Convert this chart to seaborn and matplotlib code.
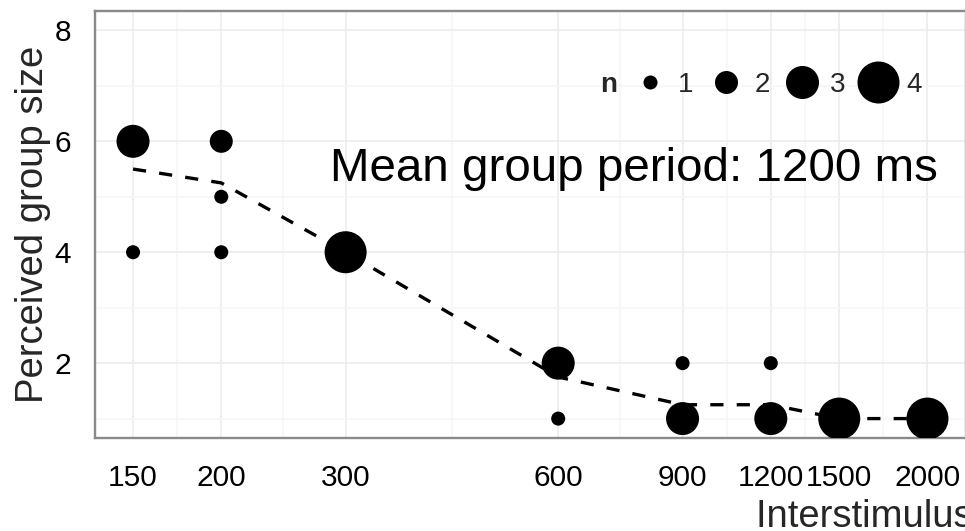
import numpy as np
import pandas as pd
import matplotlib
matplotlib.use("Agg")
import matplotlib.pyplot as plt
from matplotlib.lines import Line2D
from matplotlib.ticker import NullFormatter
import seaborn as sns

# Perceived group size per interstimulus interval, with number of responses
isi = [150, 150, 200, 200, 200, 300, 600, 600, 900, 900, 1200, 1200, 1500, 2000]
group_size = [6, 4, 6, 5, 4, 4, 2, 1, 2, 1, 2, 1, 1, 1]
n_resp = [3, 1, 2, 1, 1, 4, 3, 1, 1, 3, 1, 3, 4, 4]

x_breaks = [150, 200, 300, 600, 900, 1200, 1500, 2000]
x_labels = ["150", "200", "300", "600", "900", "1200", "1500", "2000"]
y_breaks = [2, 4, 6, 8]
y_minor = [1, 3, 5, 7]
n_levels = [1, 2, 3, 4]

annotation = "Mean group period: 1200 ms"

sns.set_style("white")
plt.rcParams["font.family"] = ["Liberation Sans", "DejaVu Sans"]
plt.rcParams["lines.scale_dashes"] = False

df = pd.DataFrame({"isi": isi, "size": group_size, "n": n_resp})
# one row per response, so the line shows the mean response per interval
df_long = df.loc[df.index.repeat(df["n"])].reset_index(drop=True)

# marker areas (pt^2) for n = 1..4
point_sizes = {1: 102, 2: 274, 3: 565, 4: 915}

fig = plt.figure(figsize=(9.65, 5.31), dpi=100)
ax = fig.add_axes([94.5 / 965, 93 / 531, 871.5 / 965, 427 / 531])
ax.set_xscale("log")

sns.scatterplot(data=df, x="isi", y="size", size="n", sizes=point_sizes,
                color="black", linewidth=0, legend=False, ax=ax, zorder=3)
sns.lineplot(data=df_long, x="isi", y="size", estimator="mean", errorbar=None,
             color="black", lw=2.4, ax=ax, zorder=4)
ax.lines[-1].set_dashes((9.5, 9.5))

# axis limits with the usual 5% padding
lx = np.log10([min(x_breaks), max(x_breaks)])
pad_x = 0.05 * (lx[1] - lx[0]) * 0.97
ax.set_xlim(10 ** (lx[0] - pad_x), 10 ** (lx[1] + pad_x))
ax.set_ylim(1 - 0.35, 8 + 0.35)

ax.set_xticks(x_breaks, x_labels)
lb = np.log10(x_breaks)
ax.set_xticks(10 ** ((lb[:-1] + lb[1:]) / 2), minor=True)
ax.xaxis.set_minor_formatter(NullFormatter())
ax.set_yticks(y_breaks)
ax.set_yticks(y_minor, minor=True)

ax.tick_params(which="major", direction="out", length=9.4, width=1.9,
               color="black", labelsize=21.5, labelcolor="black")
ax.tick_params(axis="x", which="major", pad=9.5)
ax.tick_params(axis="y", which="major", pad=7.5)
ax.tick_params(which="minor", length=0)

ax.set_axisbelow(True)
ax.grid(which="major", color="#EBEBEB", lw=1.1)
ax.grid(which="minor", color="#F6F6F6", lw=1.1)
for sp in ax.spines.values():
    sp.set_color("#8A8A8A")
    sp.set_linewidth(1.7)

ax.set_xlabel("Interstimulus interval (ms)", fontsize=27.5)
ax.xaxis.label.set_ha("left")
ax.xaxis.label.set_va("baseline")
ax.xaxis.set_label_coords(0.759, -0.2084)

ax.set_ylabel("Perceived group size", fontsize=27.5)
ax.yaxis.label.set_rotation_mode("anchor")
ax.yaxis.label.set_ha("center")
ax.yaxis.label.set_va("baseline")
ax.yaxis.set_label_coords(-0.0591, 0.5)

ax.text(0.6185, 0.6019, annotation, transform=ax.transAxes, fontsize=34.2,
        ha="center", va="baseline", color="black")

handles = [Line2D([], [], linestyle="none")]
for k in n_levels:
    handles.append(Line2D([], [], linestyle="none", marker="o",
                          markersize=np.sqrt(point_sizes[k]),
                          markerfacecolor="black", markeredgecolor="none"))
labels = ["n"] + [str(k) for k in n_levels]
leg = ax.legend(handles, labels, ncol=5, loc="center",
                bbox_to_anchor=(0.737, 0.827), frameon=False, fontsize=20,
                handlelength=1.5, handletextpad=0.25, columnspacing=0.43,
                borderpad=0, borderaxespad=0)
leg.get_texts()[0].set_fontweight("bold")

fig.savefig("out.png", dpi=100)
